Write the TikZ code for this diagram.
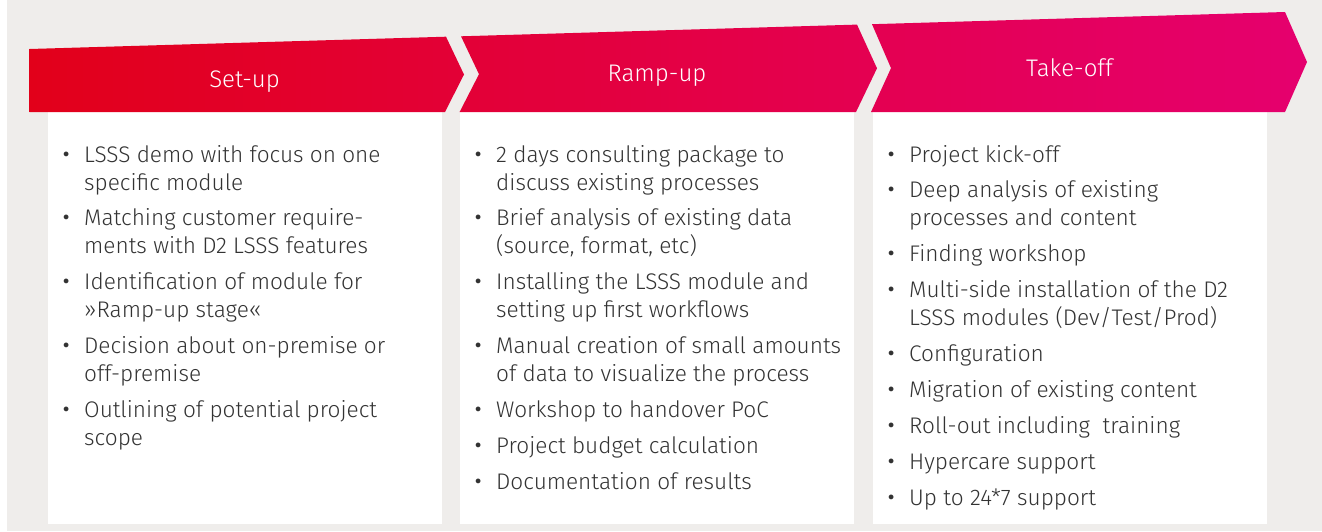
\documentclass[tikz,border=0pt]{standalone}
\usepackage{fontspec}
\setmainfont{Fira Sans Light}
\usetikzlibrary{positioning}

\definecolor{setupred}{HTML}{E2001A}
\definecolor{takeoffpink}{HTML}{E5006E}
\definecolor{panelgrey}{HTML}{EFEDEB}
\definecolor{bodytext}{HTML}{333333}
\newcommand{\bul}{\makebox[24pt]{\fontsize{32}{28}\selectfont\raisebox{-3pt}{\textbullet}}}
\newcommand{\oneline}[1]{\begin{tabular}[t]{@{}l@{\hspace{6pt}}l@{}}\bul & #1\end{tabular}}
\newcommand{\twoline}[2]{\begin{tabular}[t]{@{}l@{\hspace{6pt}}l@{}}\bul & #1\\ & #2\end{tabular}}

\begin{document}
\begin{tikzpicture}[x=1pt,y=-1pt,node distance=7.5pt]
  \tikzstyle{phase} = [text=white, font=\fontsize{24}{28}\selectfont, anchor=base, inner sep=0pt]
  \tikzstyle{item} = [text=bodytext, font=\fontsize{22.6}{28}\selectfont, inner sep=0pt, anchor=base west]
  \useasboundingbox (0,0) rectangle (1322,531);
  \fill[panelgrey] (7,0) rectangle (1322,531);

  % white panels
  \fill[white] (48,112) rectangle (442,524);
  \fill[white] (460,112) rectangle (854,524);
  \fill[white] (873,112) rectangle (1267,524);

  % phase arrows
  \begin{scope}
    \clip (29.5,49) -- (446,36.7) -- (464,74.5) -- (445,112) -- (29.5,112) -- cycle
          (461,36.3) -- (857,24.6) -- (877,68.3) -- (856,112) -- (459.6,112) -- (479,74.2) -- cycle
          (872,24.2) -- (1285,12) -- (1307,62) -- (1285,112) -- (871,112) -- (891,68.1) -- cycle;
    \shade[left color=setupred, right color=takeoffpink] (29,0) rectangle (1308,113);
  \end{scope}
  \node [phase] (setup) at (244.5,87) {Set-up};
  \node [phase] (rampup) at (657,81.5) {Ramp-up};
  \node [phase] (takeoff) at (1069.5,76) {Take-off};

  % Set-up
  \node [item] (s1) at (54,162) {\twoline{LSSS demo with focus on one}{specific module}};
  \node [item, below=of s1.south west, anchor=north west] (s2) {\twoline{Matching customer require-}{ments with D2 LSSS features}};
  \node [item, below=of s2.south west, anchor=north west] (s3) {\twoline{Identification of module for}{»Ramp-up stage«}};
  \node [item, below=of s3.south west, anchor=north west] (s4) {\twoline{Decision about on-premise or}{off-premise}};
  \node [item, below=of s4.south west, anchor=north west] (s5) {\twoline{Outlining of potential project}{scope}};

  % Ramp-up
  \node [item] (r1) at (466,162) {\twoline{2 days consulting package to}{discuss existing processes}};
  \node [item, below=of r1.south west, anchor=north west] (r2) {\twoline{Brief analysis of existing data}{(source, format, etc)}};
  \node [item, below=of r2.south west, anchor=north west] (r3) {\twoline{Installing the LSSS module and}{setting up first workflows}};
  \node [item, below=of r3.south west, anchor=north west] (r4) {\twoline{Manual creation of small amounts}{of data to visualize the process}};
  \node [item, below=of r4.south west, anchor=north west] (r5) {\oneline{Workshop to handover PoC}};
  \node [item, below=of r5.south west, anchor=north west] (r6) {\oneline{Project budget calculation}};
  \node [item, below=of r6.south west, anchor=north west] (r7) {\oneline{Documentation of results}};

  % Take-off
  \node [item] (t1) at (879,162) {\oneline{Project kick-off}};
  \node [item, below=of t1.south west, anchor=north west] (t2) {\twoline{Deep analysis of existing}{processes and content}};
  \node [item, below=of t2.south west, anchor=north west] (t3) {\oneline{Finding workshop}};
  \node [item, below=of t3.south west, anchor=north west] (t4) {\twoline{Multi-side installation of the D2}{LSSS modules (Dev/Test/Prod)}};
  \node [item, below=of t4.south west, anchor=north west] (t5) {\oneline{Configuration}};
  \node [item, below=of t5.south west, anchor=north west] (t6) {\oneline{Migration of existing content}};
  \node [item, below=of t6.south west, anchor=north west] (t7) {\oneline{Roll-out including \ training}};
  \node [item, below=of t7.south west, anchor=north west] (t8) {\oneline{Hypercare support}};
  \node [item, below=of t8.south west, anchor=north west] (t9) {\oneline{Up to 24*7 support}};
\end{tikzpicture}
\end{document}
